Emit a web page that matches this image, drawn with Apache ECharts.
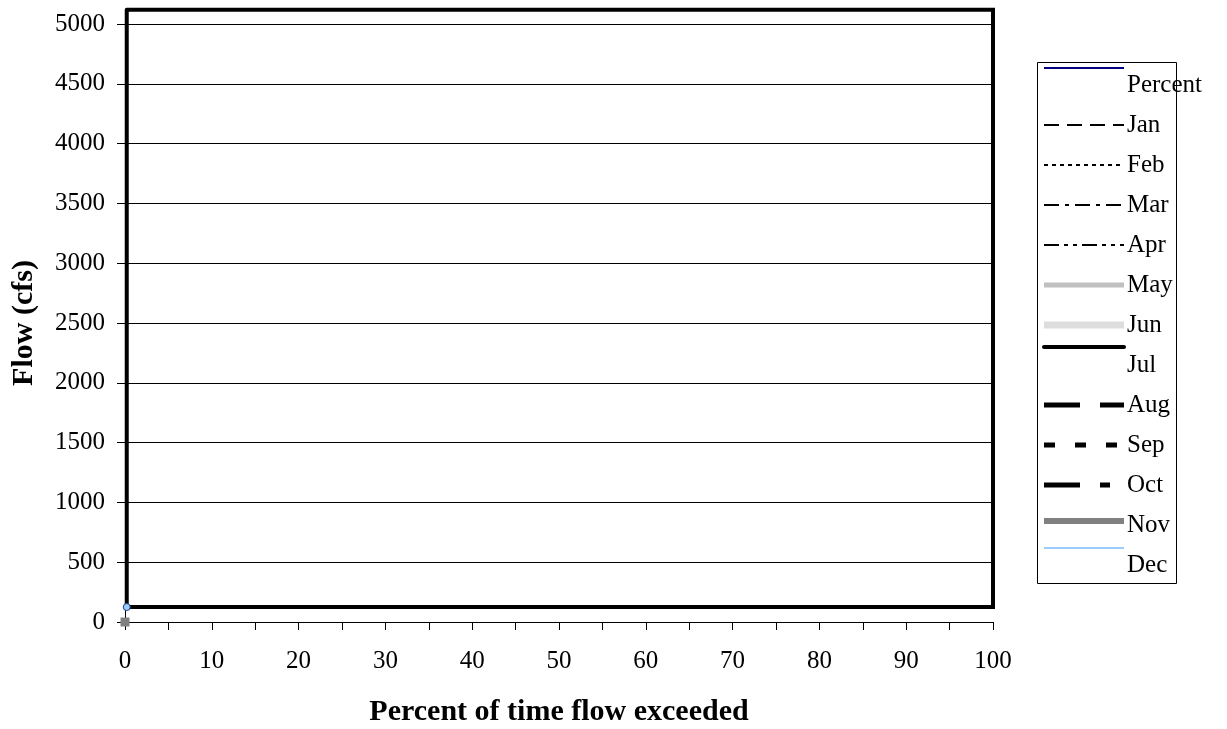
<!DOCTYPE html>
<html>
<head>
<meta charset="utf-8">
<script src="https://cdn.jsdelivr.net/npm/echarts@6/dist/echarts.min.js"></script>
<style>html,body{margin:0;padding:0;background:#fff}#c{width:1227px;height:729px}</style>
</head>
<body>
<div id="c"></div>
<script>
// ---- data ----
var seriesNames = ['Percent','Jan','Feb','Mar','Apr','May','Jun','Jul','Aug','Sep','Oct','Nov','Dec'];
var julX = [0.2, 0.2, 100, 100, 0.2];
var julY = [5120, 125, 125, 5120, 5120];
var decX = [0.2];
var decY = [125];
var novX = [0];
var novY = [0];
var xTicks = [0,10,20,30,40,50,60,70,80,90,100];
var yTicks = [0,500,1000,1500,2000,2500,3000,3500,4000,4500,5000];

// ---- styles ----
var styles = {
  Percent:{color:'#000080', width:2, type:'solid'},
  Jan:{color:'#000', width:2, type:[15,8]},
  Feb:{color:'#000', width:2, type:[4,4]},
  Mar:{color:'#000', width:2, type:[15,6,4,6]},
  Apr:{color:'#000', width:2, type:[15,5,4,5,4,5]},
  May:{color:'#c0c0c0', width:5, type:'solid'},
  Jun:{color:'#dddddd', width:7, type:'solid'},
  Jul:{color:'#000', width:4, type:'solid', cap:'round'},
  Aug:{color:'#000', width:5, type:[36,20]},
  Sep:{color:'#000', width:5, type:[11,20]},
  Oct:{color:'#000', width:5, type:[36,20,10,20]},
  Nov:{color:'#808080', width:6, type:'solid'},
  Dec:{color:'#99ccff', width:2, type:'solid'}
};
var legendLineOffset = {Percent:-17, Jul:-18, Dec:-17, Nov:-4};

function pairs(xs, ys){ return xs.map(function(x,i){return [x, ys[i]];}); }

var font = 'Liberation Serif';
var series = seriesNames.map(function(n){
  var st = styles[n];
  var s = {
    name:n, type:'line', clip:false, silent:true, animation:false,
    showSymbol:false, symbol:'none',
    lineStyle:{color:st.color, width:st.width, type:st.type, cap:st.cap||'butt', join:'miter'},
    data:[]
  };
  if(n==='Jul'){ s.data = pairs(julX, julY); s.z = 3; }
  if(n==='Dec'){ s.data = pairs(decX, decY); s.showSymbol=true; s.symbol='circle'; s.symbolSize=7;
    s.itemStyle={color:'#99ccff', borderColor:'#1f3f7f', borderWidth:1}; s.z=5; }
  if(n==='Nov'){ s.data = pairs(novX, novY); s.showSymbol=true; s.symbol='rect'; s.symbolSize=9;
    s.itemStyle={color:'#808080', borderWidth:0}; s.z=5; }
  return s;
});

// legend built from names/styles
var graphics = [{type:'rect', shape:{x:1037.5, y:62.5, width:139, height:521},
  style:{fill:'#fff', stroke:'#000', lineWidth:1}, z:10}];
seriesNames.forEach(function(n, i){
  var ty = 85 + 40*i;
  var ly = ty + (legendLineOffset[n]||0);
  var st = styles[n];
  graphics.push({type:'line', shape:{x1:1044, y1:ly, x2:1124, y2:ly},
    style:{stroke:st.color, lineWidth:st.width, lineDash:(typeof st.type==='string'?null:st.type), lineCap:st.cap||'butt'}, z:11});
  graphics.push({type:'text', x:1127, y:ty, style:{text:n, fill:'#000', font:'25px "'+font+'"', textVerticalAlign:'middle', textAlign:'left'}, z:11});
});

var chart = echarts.init(document.getElementById('c'), null, {renderer:'canvas'});
chart.setOption({
  animation:false,
  backgroundColor:'#fff',
  grid:{left:125, top:24, right:234, bottom:107, containLabel:false, outerBoundsMode:'none'},
  xAxis:{type:'value', min:0, max:100, interval:10,
    name:'Percent of time flow exceeded', nameLocation:'middle', nameGap:75,
    nameTextStyle:{fontFamily:font, fontSize:30, fontWeight:'bold', color:'#000'},
    axisLine:{show:true, onZero:false, lineStyle:{color:'#000', width:1}},
    axisTick:{show:true, inside:false, length:8, lineStyle:{color:'#000'}},
    minorTick:{show:true, splitNumber:2, length:8, lineStyle:{color:'#000'}},
    axisLabel:{fontFamily:font, fontSize:25, color:'#000', margin:27,
      formatter:function(v){ return xTicks.indexOf(v)>=0 ? String(v) : ''; }},
    splitLine:{show:false}},
  yAxis:{type:'value', min:0, max:5000, interval:500,
    name:'Flow (cfs)', nameLocation:'middle', nameGap:86, nameRotate:90,
    nameTextStyle:{fontFamily:font, fontSize:30, fontWeight:'bold', color:'#000'},
    axisLine:{show:true, lineStyle:{color:'#000', width:1}},
    axisTick:{show:true, inside:false, length:8, lineStyle:{color:'#000'}},
    axisLabel:{fontFamily:font, fontSize:25, color:'#000', margin:20,
      formatter:function(v){ return yTicks.indexOf(v)>=0 ? String(v) : ''; }},
    splitLine:{show:true, lineStyle:{color:'#000', width:1}}},
  series:series,
  graphic:graphics
});
</script>
</body>
</html>
